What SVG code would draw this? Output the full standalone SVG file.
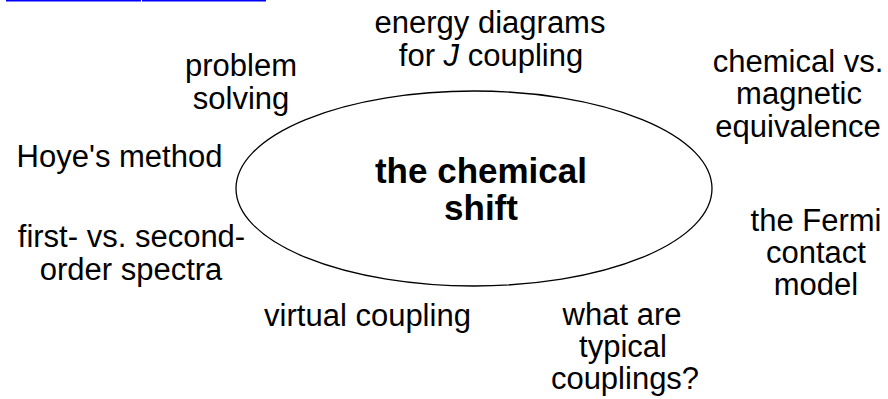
<svg xmlns="http://www.w3.org/2000/svg" width="888" height="399" viewBox="0 0 888 399">
<style>
text{font-family:"Liberation Sans",Arial,Helvetica,sans-serif;font-size:31px;fill:#000;text-anchor:middle}
.b{font-weight:bold;font-size:35px}
</style>
<rect width="888" height="399" fill="#fff"/>
<g id="links">
<rect x="6" y="0" width="135" height="1.5" fill="#00f"/>
<rect x="142" y="0" width="124" height="1.5" fill="#00f"/>
</g>
<g id="center">
<ellipse cx="474" cy="188.5" rx="238" ry="97.5" fill="none" stroke="#000" stroke-width="1.3"/>
<text class="b" x="481" y="183">the chemical</text>
<text class="b" x="481" y="220">shift</text>
</g>
<g id="connectors"/>
<g id="problem"><text x="241" y="76">problem</text><text x="241" y="109">solving</text></g>
<g id="energy"><text x="490" y="33">energy diagrams</text><text x="491" y="66">for <tspan font-style="italic">J</tspan> coupling</text></g>
<g id="equiv"><text x="798" y="72">chemical vs.</text><text x="799" y="104">magnetic</text><text x="798" y="137">equivalence</text></g>
<g id="hoye"><text x="119.5" y="167">Hoye's method</text></g>
<g id="order"><text x="131.5" y="247">first- vs. second-</text><text x="131" y="280">order spectra</text></g>
<g id="fermi"><text x="816" y="231">the Fermi</text><text x="816" y="263">contact</text><text x="816" y="295">model</text></g>
<g id="virtual"><text x="367.5" y="326">virtual coupling</text></g>
<g id="typical"><text x="622" y="325">what are</text><text x="623" y="357">typical</text><text x="625" y="389">couplings?</text></g>
</svg>
